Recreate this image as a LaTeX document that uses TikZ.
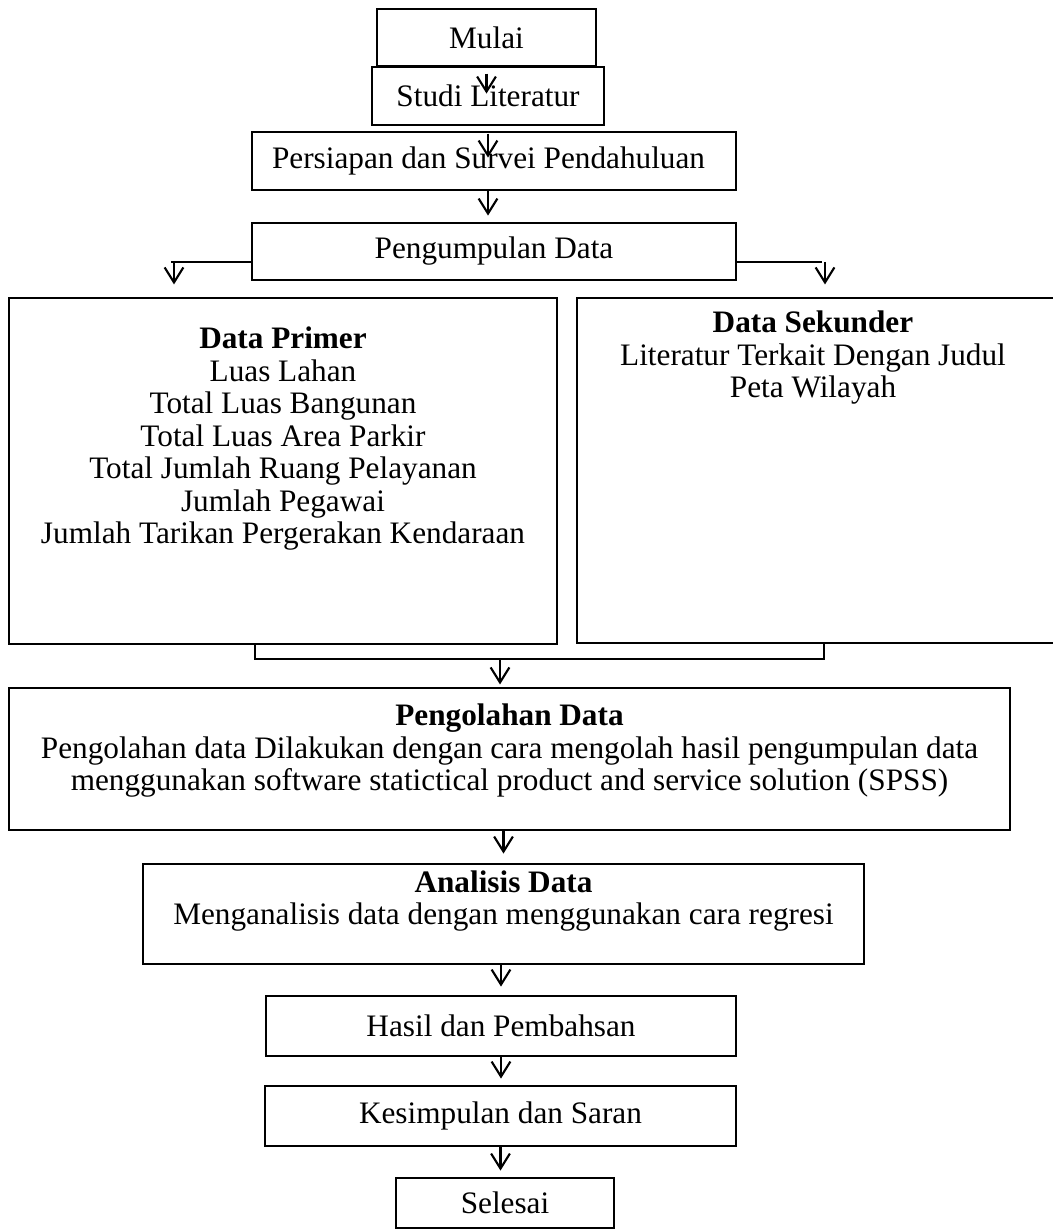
\documentclass[tikz,border=0pt]{standalone}
\usepackage{fontspec}
\setmainfont{Liberation Serif}
\usetikzlibrary{arrows.meta,positioning}

\begin{document}
\begin{tikzpicture}[
        x=0.4pt, y=-0.4pt,
        every node/.style={font=\fontsize{12.5}{13}\selectfont, align=center, inner sep=0pt},
        box/.style 2 args={draw, line width=0.45pt, minimum width=#1*0.4pt, minimum height=#2*0.4pt},
        link/.style={draw, line width=0.7pt},
        flow/.style={draw, line width=0.85pt,
            -{Straight Barb[length=6pt, width=7.5pt, line width=0.85pt]}},
    ]
    \useasboundingbox (0,0) rectangle (1052,1231);

    \node[box={219}{57}] (mulai) at (486.5,37.5) {Mulai};
    \node[box={232}{58}] (studi) at (488,96) {Studi Literatur};
    \node[box={484}{58}, align=flush left, text width=444*0.4pt] (persiapan) at (494,161)
        {Persiapan dan Survei Pendahuluan};
    \node[box={484}{57}] (kumpul) at (494,251.5) {Pengumpulan Data};

    \node[box={548}{346}] (primer) at (283,471) {};
    \node (primtxt) at (283,439) {\textbf{Data Primer}\\ Luas Lahan\\ Total Luas Bangunan\\
        Total Luas Area Parkir\\ Total Jumlah Ruang Pelayanan\\ Jumlah Pegawai\\
        Jumlah Tarikan Pergerakan Kendaraan};
    \node[box={485}{345}] (sekunder) at (819.5,470.5) {};
    \node (sektxt) at (813,358) {\textbf{Data Sekunder}\\ Literatur Terkait Dengan Judul\\ Peta Wilayah};

    \node[box={1001}{142}] (olah) at (509.5,759) {};
    \node (olahtxt) at (509.5,751) {\textbf{Pengolahan Data}\\
        Pengolahan data Dilakukan dengan cara mengolah hasil pengumpulan data\\
        menggunakan software statictical product and service solution (SPSS)};
    \node[box={721}{100}] (analisis) at (503.5,914) {};
    \node (analtxt) at (503.5,901) {\textbf{Analisis Data}\\
        Menganalisis data dengan menggunakan cara regresi};
    \node[box={470}{60}] (hasil) at (501,1026) {Hasil dan Pembahsan};
    \node[box={471}{60}] (simpul) at (500.5,1116) {Kesimpulan dan Saran};
    \node[box={218}{50}] (selesai) at (505,1203) {Selesai};

    \coordinate (kl) at (174,262);
    \coordinate (kr) at (825,262);
    \coordinate (jl) at (255,659);
    \coordinate (jr) at (824,659);
    \coordinate (jm) at (500,659);

    \draw[flow] ([yshift=-2.8pt]mulai.south) -- ++(0,20);
    \draw[flow] ([yshift=-3.2pt]studi.south) -- ++(0,24);
    \draw[flow] (persiapan.south -| studi.south) -- ++(0,25);

    \draw[link] (kumpul.west |- kl) -- ([xshift=-1.2pt]kl);
    \draw[flow] (kl) -- ([yshift=5.2pt]kl |- primer.north);
    \draw[link] (kumpul.east |- kr) -- ([xshift=-1.2pt]kr);
    \draw[flow] (kr) -- ([yshift=5.2pt]kr |- sekunder.north);

    \draw[link] (jl |- primer.south) -- (jl) -- (jr) -- (jr |- sekunder.south);
    \draw[flow] (jm) -- ([yshift=1.2pt]jm |- olah.north);

    \draw[flow] (olah.south -| analisis.south) -- ++(0,23);
    \draw[flow] (analisis.south -| hasil.south) -- ++(0,22);
    \draw[flow] (hasil.south) -- ++(0,22);
    \draw[flow] (simpul.south) -- ++(0,24);
\end{tikzpicture}
\end{document}
